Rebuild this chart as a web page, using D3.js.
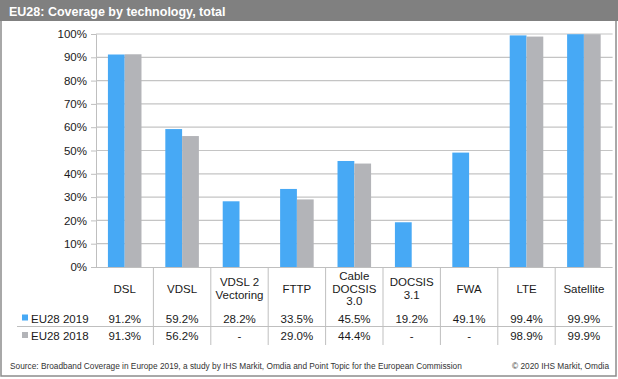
<!DOCTYPE html>
<html><head><meta charset="utf-8">
<script src="https://cdn.jsdelivr.net/npm/d3@7/dist/d3.min.js"></script>
<style>body{margin:0;background:#fff}svg{display:block;font-family:"Liberation Sans",Arial,sans-serif}</style>
</head><body><svg id="c" width="618" height="379"></svg>
<script>
const categories = [["DSL"],["VDSL"],["VDSL 2","Vectoring"],["FTTP"],["Cable","DOCSIS","3.0"],["DOCSIS","3.1"],["FWA"],["LTE"],["Satellite"]];
const series2019 = [91.2,59.2,28.2,33.5,45.5,19.2,49.1,99.4,99.9];
const series2018 = [91.3,56.2,null,29.0,44.4,null,null,98.9,99.9];
const seriesNames = ["EU28 2019","EU28 2018"];
const colors = ["#47a9f5","#b3b4b8"];
const yTicks = [0,10,20,30,40,50,60,70,80,90,100];

const svg = d3.select("#c");
const W=618,H=379;
const L=96,R=612.6,T=34,B=267;
const keys = categories.map((d,i)=>i);
const x = d3.scaleBand().domain(keys).range([L,R]).paddingInner(0).paddingOuter(0);
const y = d3.scaleLinear().domain([0,100]).range([B,T]);
const x1 = d3.scaleBand().domain([0,1]).range([0,x.bandwidth()]).paddingOuter(0.71).paddingInner(0);

// frame
svg.append("rect").attr("x",1).attr("y",1).attr("width",W-3).attr("height",H-4).attr("fill","#fff").attr("stroke","#8c8c8c").attr("stroke-width",1.5);
svg.append("rect").attr("x",0).attr("y",0).attr("width",W).attr("height",21).attr("fill","#808080");
svg.append("text").attr("x",9).attr("y",15.5).attr("fill","#fff").attr("font-weight","bold").attr("font-size",12.5).text("EU28: Coverage by technology, total");

// gridlines
const yAxis = d3.axisLeft(y).tickValues(yTicks).tickFormat(d=>d+"%").tickSize(5).tickPadding(4);
const gy = svg.append("g").attr("transform",`translate(${L},0)`).call(yAxis);
gy.select(".domain").attr("stroke","#bfbfbf");
gy.selectAll(".tick line").attr("stroke","#bfbfbf");
gy.selectAll(".tick text").attr("font-size",11.5).attr("fill","#1a1a1a").attr("font-family","Liberation Sans, Arial, sans-serif");
svg.append("g").selectAll("line").data(yTicks.filter(d=>d>0)).join("line")
  .attr("x1",L).attr("x2",R).attr("y1",d=>y(d)).attr("y2",d=>y(d)).attr("stroke","#c4c4c4").attr("stroke-width",1.2);

// bars
const data = [series2019,series2018];
data.forEach((s,si)=>{
  svg.append("g").selectAll("rect").data(s.map((v,i)=>({v,i})).filter(d=>d.v!=null)).join("rect")
    .attr("x",d=>x(d.i)+x1(si)).attr("width",x1.bandwidth())
    .attr("y",d=>y(d.v)).attr("height",d=>B-y(d.v)).attr("fill",colors[si]);
});

// x axis line
svg.append("line").attr("x1",L).attr("x2",R).attr("y1",B+0.5).attr("y2",B+0.5).attr("stroke","#bfbfbf").attr("stroke-width",1.2);
// column dividers
svg.append("g").selectAll("line").data(keys.slice(1)).join("line")
  .attr("x1",d=>x(d)).attr("x2",d=>x(d)).attr("y1",B).attr("y2",345).attr("stroke","#bfbfbf");
// row divider
svg.append("line").attr("x1",17).attr("x2",R).attr("y1",326.5).attr("y2",326.5).attr("stroke","#bfbfbf").attr("stroke-width",1.2);

// category labels
const lh=12.8;
categories.forEach((c,i)=>{
  const cy=288.5-(c.length-1)*lh/2;
  const t=svg.append("text").attr("text-anchor","middle").attr("font-size",11.5).attr("fill","#1a1a1a");
  c.forEach((ln,j)=>t.append("tspan").attr("x",x(i)+x.bandwidth()/2).attr("y",cy+j*lh+4).text(ln));
});
// table values
const rowY=[318,335.5];
data.forEach((s,si)=>{
  svg.append("rect").attr("x",22).attr("y",rowY[si]-3.5).attr("width",6).attr("height",6).attr("fill",colors[si]);
  svg.append("text").attr("x",31).attr("y",rowY[si]+4.5).attr("font-size",11.5).attr("fill","#1a1a1a").text(seriesNames[si]);
  svg.append("g").selectAll("text").data(s).join("text")
    .attr("x",(d,i)=>x(i)+x.bandwidth()/2).attr("y",rowY[si]+4.5).attr("text-anchor","middle")
    .attr("font-size",11.5).attr("fill","#1a1a1a").text(d=>d==null?"-":d.toFixed(1)+"%");
});

svg.append("text").attr("x",10).attr("y",369).attr("font-size",8.3).attr("fill","#333").text("Source: Broadband Coverage in Europe 2019, a study by IHS Markit, Omdia and Point Topic for the European Commission");
svg.append("text").attr("x",609).attr("y",369).attr("text-anchor","end").attr("font-size",8.3).attr("fill","#333").text("© 2020 IHS Markit, Omdia");
</script></body></html>
